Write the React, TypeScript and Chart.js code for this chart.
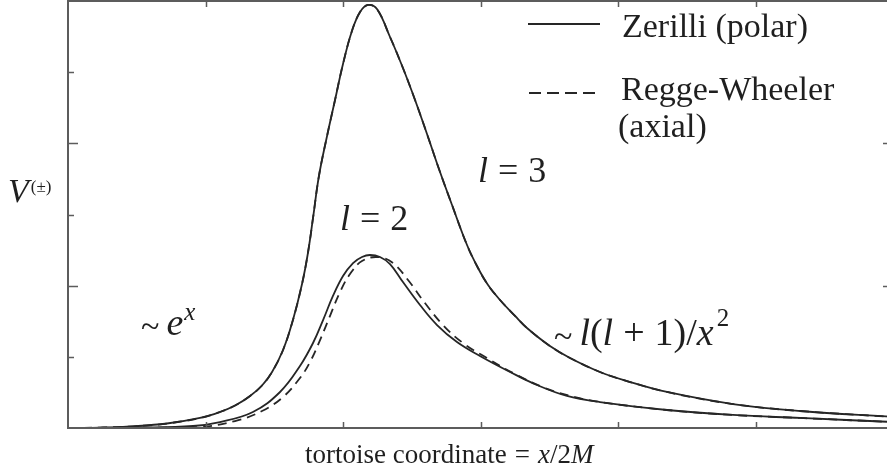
import React, { useEffect, useRef } from "react";
import { Chart, registerables } from "chart.js";

Chart.register(...registerables);

// Tortoise coordinate samples (arbitrary units, 0..6) and potential values (0..6)
const l3X = [0, 0.233, 0.473, 0.72, 0.96, 1.105, 1.215, 1.324, 1.411, 1.484, 1.564, 1.636, 1.702, 1.745, 1.782, 1.825, 1.884, 1.942, 2.0, 2.065, 2.124, 2.182, 2.247, 2.342, 2.436, 2.524, 2.611, 2.698, 2.793, 2.902, 2.982, 3.055, 3.142, 3.251, 3.338, 3.505, 3.651, 3.869, 4.065, 4.356, 4.836, 5.324, 6.0];
const l3Polar = [0, 0.006, 0.024, 0.063, 0.141, 0.225, 0.316, 0.45, 0.597, 0.787, 1.096, 1.518, 2.023, 2.459, 2.951, 3.541, 4.103, 4.609, 5.115, 5.578, 5.845, 5.944, 5.887, 5.494, 5.058, 4.609, 4.131, 3.639, 3.133, 2.571, 2.248, 2.009, 1.799, 1.574, 1.405, 1.152, 0.984, 0.787, 0.66, 0.506, 0.337, 0.239, 0.155];
const l3Axial = [0, 0.006, 0.024, 0.063, 0.141, 0.225, 0.316, 0.45, 0.597, 0.787, 1.096, 1.518, 2.023, 2.459, 2.951, 3.541, 4.103, 4.609, 5.115, 5.578, 5.845, 5.944, 5.887, 5.494, 5.058, 4.609, 4.131, 3.639, 3.133, 2.571, 2.248, 2.009, 1.799, 1.574, 1.405, 1.152, 0.984, 0.787, 0.66, 0.506, 0.337, 0.239, 0.155];

const l2PolarX = [0, 0.524, 0.909, 1.105, 1.345, 1.542, 1.687, 1.782, 1.855, 1.927, 2.0, 2.073, 2.138, 2.196, 2.269, 2.342, 2.436, 2.56, 2.684, 2.829, 2.996, 3.215, 3.411, 3.629, 3.869, 4.356, 4.836, 5.324, 6.0];
const l2Polar = [0, 0.007, 0.028, 0.084, 0.225, 0.506, 0.871, 1.194, 1.517, 1.855, 2.136, 2.318, 2.403, 2.431, 2.403, 2.304, 2.051, 1.728, 1.447, 1.208, 1.012, 0.787, 0.604, 0.45, 0.365, 0.253, 0.183, 0.141, 0.084];

const l2AxialX = [0, 0.596, 0.96, 1.215, 1.411, 1.564, 1.687, 1.76, 1.833, 1.905, 1.978, 2.051, 2.138, 2.255, 2.364, 2.473, 2.596, 2.727, 2.873, 3.047, 3.251, 3.469, 3.687, 3.869, 4.356, 4.836, 5.324, 6.0];
const l2Axial = [0, 0.003, 0.014, 0.098, 0.239, 0.435, 0.702, 0.927, 1.236, 1.573, 1.91, 2.163, 2.346, 2.402, 2.317, 2.079, 1.756, 1.447, 1.194, 0.983, 0.758, 0.562, 0.435, 0.365, 0.253, 0.183, 0.141, 0.084];

const xTicks = [1, 2, 3, 4, 5];
const yMajorTicks = [2, 4];
const yMinorTicks = [1, 3, 5];

const legendLabels = ["Zerilli (polar)", "Regge-Wheeler", "(axial)"];
const axisTitle = "tortoise coordinate";

const SERIF = '"Liberation Serif", "DejaVu Serif", serif';
const INK = "#1f1f1f";
const CURVE = "#262626";
const AXIS = "#5c5c5c";

const pts = (xs: number[], ys: number[]) => xs.map((x, i) => ({ x, y: ys[i] }));

type Run = { t: string; size: number; italic?: boolean; dy?: number; gap?: number };

function drawRuns(ctx: CanvasRenderingContext2D, x: number, y: number, runs: Run[]) {
  let cx = x;
  for (const r of runs) {
    cx += r.gap || 0;
    ctx.font = `${r.italic ? "italic " : ""}${r.size}px ${SERIF}`;
    ctx.fillText(r.t, cx, y + (r.dy || 0));
    cx += ctx.measureText(r.t).width;
  }
}

const framePlugin = {
  id: "frame",
  afterDatasetsDraw(chart: any) {
    const { ctx, chartArea: a, scales } = chart;
    const xs = scales.x;
    const ys = scales.y;
    ctx.save();
    ctx.strokeStyle = AXIS;
    ctx.lineWidth = 2;
    ctx.beginPath();
    ctx.moveTo(a.left, a.top);
    ctx.lineTo(a.right, a.top);
    ctx.lineTo(a.right, a.bottom);
    ctx.lineTo(a.left, a.bottom);
    ctx.closePath();
    ctx.stroke();

    ctx.lineWidth = 1.5;
    ctx.beginPath();
    for (const v of xTicks) {
      const px = Math.round(xs.getPixelForValue(v)) + 0.5;
      ctx.moveTo(px, a.bottom);
      ctx.lineTo(px, a.bottom - 6);
      ctx.moveTo(px, a.top);
      ctx.lineTo(px, a.top + 6);
    }
    for (const v of yMajorTicks) {
      const py = Math.round(ys.getPixelForValue(v)) + 0.5;
      ctx.moveTo(a.left, py);
      ctx.lineTo(a.left + 10, py);
      ctx.moveTo(a.right, py);
      ctx.lineTo(a.right - 10, py);
    }
    for (const v of yMinorTicks) {
      const py = Math.round(ys.getPixelForValue(v)) + 0.5;
      ctx.moveTo(a.left, py);
      ctx.lineTo(a.left + 6, py);
      ctx.moveTo(a.right, py);
      ctx.lineTo(a.right - 6, py);
    }
    ctx.stroke();

    // legend samples
    ctx.strokeStyle = CURVE;
    ctx.lineWidth = 1.8;
    ctx.beginPath();
    ctx.moveTo(528, 24);
    ctx.lineTo(600, 24);
    ctx.stroke();
    ctx.setLineDash([12, 6]);
    ctx.beginPath();
    ctx.moveTo(529, 93);
    ctx.lineTo(600, 93);
    ctx.stroke();
    ctx.setLineDash([]);

    ctx.fillStyle = INK;
    ctx.textBaseline = "alphabetic";
    ctx.textAlign = "left";
    ctx.font = `34px ${SERIF}`;
    ctx.fillText(legendLabels[0], 622, 37);
    ctx.fillText(legendLabels[1], 621, 100);
    ctx.fillText(legendLabels[2], 618, 137);

    // curve annotations
    drawRuns(ctx, 478, 182, [
      { t: "l", size: 36, italic: true },
      { t: "=", size: 36, gap: 10 },
      { t: "3", size: 36, gap: 10 },
    ]);
    drawRuns(ctx, 340, 230, [
      { t: "l", size: 36, italic: true },
      { t: "=", size: 36, gap: 10 },
      { t: "2", size: 36, gap: 10 },
    ]);
    drawRuns(ctx, 141, 337, [
      { t: "~", size: 34 },
      { t: "e", size: 38, italic: true, gap: 7, dy: -2 },
      { t: "x", size: 25, italic: true, dy: -17, gap: 1 },
    ]);
    drawRuns(ctx, 554, 347, [
      { t: "~", size: 34 },
      { t: "l", size: 38, italic: true, gap: 7, dy: -2 },
      { t: "(", size: 38, dy: -2 },
      { t: "l", size: 38, italic: true, dy: -2 },
      { t: "+", size: 38, gap: 10, dy: -2 },
      { t: "1)/", size: 38, gap: 10, dy: -2 },
      { t: "x", size: 38, italic: true, dy: -2 },
      { t: "2", size: 25, dy: -21, gap: 3 },
    ]);

    // axis titles
    drawRuns(ctx, 305, 463, [
      { t: axisTitle, size: 27 },
      { t: "=", size: 27, gap: 8 },
      { t: "x", size: 27, italic: true, gap: 8 },
      { t: "/2", size: 27 },
      { t: "M", size: 27, italic: true },
    ]);
    drawRuns(ctx, 8, 202, [
      { t: "V", size: 34, italic: true },
      { t: "(±)", size: 17, dy: -10, gap: 2 },
    ]);
    ctx.restore();
  },
};

export default function App() {
  const ref = useRef<HTMLCanvasElement | null>(null);

  useEffect(() => {
    const canvas = ref.current;
    if (!canvas) return;
    const line = (data: { x: number; y: number }[], dashed: boolean) => ({
      data,
      borderColor: CURVE,
      borderWidth: 1.8,
      borderDash: dashed ? [9, 6] : [],
      pointRadius: 0,
      fill: false,
      tension: 0.4,
    });
    const chart = new Chart(canvas, {
      type: "line",
      data: {
        datasets: [
          line(pts(l3X, l3Polar), false),
          line(pts(l3X, l3Axial), true),
          line(pts(l2PolarX, l2Polar), false),
          line(pts(l2AxialX, l2Axial), true),
        ],
      },
      options: {
        animation: false,
        responsive: false,
        devicePixelRatio: 1,
        layout: { padding: { left: 68, top: 1, right: 7, bottom: 48 } },
        plugins: { legend: { display: false }, tooltip: { enabled: false } },
        scales: {
          x: { type: "linear", min: 0, max: 6, display: false },
          y: { type: "linear", min: 0, max: 6, display: false },
        },
      },
      plugins: [framePlugin],
    });
    return () => chart.destroy();
  }, []);

  return (
    <div
      style={{
        position: "fixed",
        left: 0,
        top: 0,
        width: 887,
        height: 476,
        overflow: "hidden",
        background: "#fff",
      }}
    >
      <canvas ref={ref} width={900} height={476} style={{ display: "block" }} />
    </div>
  );
}
